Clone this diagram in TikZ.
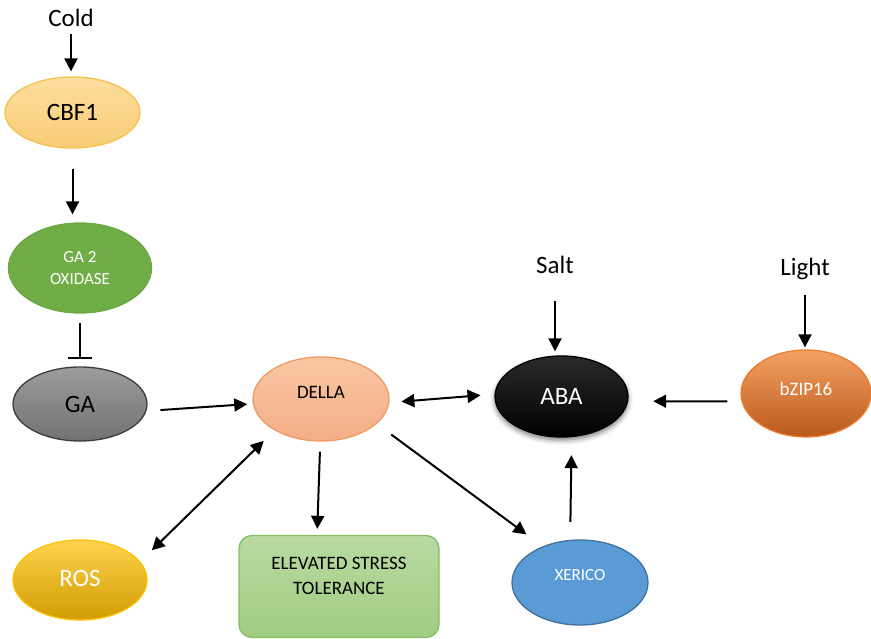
\documentclass[tikz,border=0pt]{standalone}
\usepackage{fontspec}
\setmainfont{Carlito}
\usetikzlibrary{arrows.meta,shapes.geometric,shadows.blur}

\definecolor{cbfTop}{HTML}{FDDE9E}
\definecolor{cbfBot}{HTML}{F9CC76}
\definecolor{cbfLine}{HTML}{F5C04C}
\definecolor{oxiFill}{HTML}{70AD47}
\definecolor{oxiLine}{HTML}{6BA646}
\definecolor{gaTop}{HTML}{9C9C9C}
\definecolor{gaBot}{HTML}{727272}
\definecolor{gaLine}{HTML}{3C3C3C}
\definecolor{dellaTop}{HTML}{F8C6A4}
\definecolor{dellaBot}{HTML}{F4AE86}
\definecolor{dellaLine}{HTML}{F19A62}
\definecolor{abaTop}{HTML}{2A2A2A}
\definecolor{bzipTop}{HTML}{F4A263}
\definecolor{bzipMid}{HTML}{ED7D31}
\definecolor{bzipBot}{HTML}{BA591C}
\definecolor{rosTop}{HTML}{FFD34F}
\definecolor{rosMid}{HTML}{FFC000}
\definecolor{rosBot}{HTML}{D09C00}
\definecolor{boxTop}{HTML}{B9DAA2}
\definecolor{boxBot}{HTML}{A0CC82}
\definecolor{boxLine}{HTML}{86BD66}
\definecolor{xerFill}{HTML}{5B9BD5}
\definecolor{xerLine}{HTML}{41719C}

\begin{document}
\begin{tikzpicture}[x=1pt,y=-1pt,
  bubble/.style={ellipse, draw, line width=1.3pt, inner sep=0pt, align=center},
  cue/.style={inner sep=0pt, font=\fontsize{25}{30}\selectfont},
  big/.style={font=\fontsize{25}{30}\selectfont},
  mid/.style={font=\fontsize{19}{25}\selectfont},
  sml/.style={font=\fontsize{17}{22}\selectfont},
  conn/.style={line width=2pt, -{Triangle[length=13pt,width=13pt]}},
  twoway/.style={line width=2pt, {Triangle[length=13pt,width=13pt]}-{Triangle[length=13pt,width=13pt]}},
  inhibit/.style={line width=2pt, -{Bar[width=24pt,line width=2pt]}}
]
\useasboundingbox (0,0) rectangle (871,639);

% stimuli
\node[cue] (cold)  at (71,18)  {Cold};
\node[cue] (salt)  at (555,265) {Salt};
\node[cue] (light) at (805,269) {Light};

% components
\node[bubble, draw=cbfLine, top color=cbfTop, bottom color=cbfBot,
      minimum width=135pt, minimum height=71pt, big] (cbf1) at (72.5,112.5) {CBF1};
\node[bubble, draw=oxiLine, fill=oxiFill, text=white,
      minimum width=143pt, minimum height=90pt, sml] (ga2) at (80,268) {GA 2\\OXIDASE};
\node[bubble, draw=gaLine, top color=gaTop, bottom color=gaBot,
      minimum width=134pt, minimum height=74pt, big] (ga) at (80,404) {GA};
\node[bubble, draw=dellaLine, top color=dellaTop, bottom color=dellaBot,
      minimum width=136pt, minimum height=84pt,
      label={[mid, yshift=7pt]center:DELLA}] (della) at (321,399) {};
\node[bubble, draw=black, top color=abaTop, bottom color=black, text=white,
      minimum width=133pt, minimum height=81pt, big,
      blur shadow={shadow xshift=0pt, shadow yshift=-3pt, shadow blur radius=5pt, shadow opacity=55}] (aba) at (561.5,396.5) {ABA};
\node[bubble, draw=bzipMid, top color=bzipTop, middle color=bzipMid, bottom color=bzipBot,
      minimum width=130pt, minimum height=87pt,
      label={[mid, text=white, yshift=5pt]center:bZIP16}] (bzip) at (806,393.5) {};
\node[bubble, draw=rosMid, top color=rosTop, middle color=rosMid, bottom color=rosBot,
      minimum width=134pt, minimum height=80pt,
      label={[big, text=white, yshift=2pt]center:ROS}] (ros) at (80,580) {};
\node[rectangle, rounded corners=13pt, draw=boxLine, line width=1.3pt,
      top color=boxTop, bottom color=boxBot, minimum width=200pt, minimum height=102pt,
      label={[mid, align=center, yshift=11pt]center:ELEVATED STRESS\\TOLERANCE}] (stress) at (339,586.5) {};
\node[bubble, draw=xerLine, fill=xerFill,
      minimum width=136pt, minimum height=85pt,
      label={[sml, text=white, yshift=7pt]center:XERICO}] (xerico) at (580,582.5) {};

% signalling links
\draw[conn, shorten <=7pt, shorten >=5pt] (cold.base) -- (cold.base |- cbf1.north);
\draw[conn, shorten <=20pt, shorten >=8pt] (cbf1.south) -- (cbf1.south |- ga2.north);
\draw[inhibit, shorten <=9pt, shorten >=7pt] (ga2.south) -- (ga2.south |- ga.north);
\draw[conn, shorten <=14pt, shorten >=5.5pt] (ga.-6) -- (della.184);
\draw[twoway, shorten <=12pt, shorten >=14pt] (della.-3) -- (aba.178);
\draw[conn, shorten <=27pt, shorten >=4pt] (salt.base) -- (salt.base |- aba.north);
\draw[conn, shorten <=19pt, shorten >=2pt] (light.base) -- (light.base |- bzip.north);
\draw[conn, shorten <=14pt, shorten >=25pt] (bzip.187.6) -- (aba.-4.8);
\draw[twoway, shorten <=15pt, shorten >=16pt] (della.214) -- (ros.17);
\draw[conn, shorten <=10pt, shorten >=6pt] (della.-91) -- (stress.113);
\draw[conn, shorten <=18pt, shorten >=20pt] (della.-24) -- (xerico.136);
\draw[conn, shorten <=18pt, shorten >=18pt] (xerico.103.4) -- (aba.-76.7);
\end{tikzpicture}
\end{document}
